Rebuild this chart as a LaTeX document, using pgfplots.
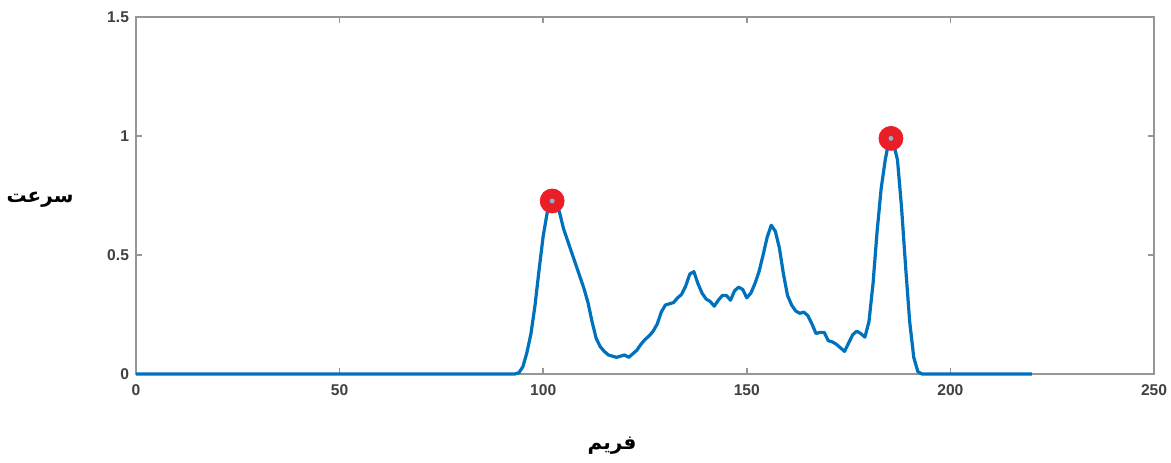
\documentclass[border=0pt]{standalone}
\usepackage{fontspec}
\setmainfont{Liberation Sans}
\newfontfamily\arabicfont[Script=Arabic]{DejaVu Sans}
\TeXXeTstate=1
\usepackage{pgfplots}
\pgfplotsset{compat=1.18}
\definecolor{mblue}{RGB}{0,114,189}
\definecolor{axgray}{RGB}{150,150,150}
\definecolor{mred}{RGB}{235,30,40}
\begin{document}
\begin{tikzpicture}
\path[use as bounding box] (-68pt,-44pt) rectangle (517.5pt,187pt);
\begin{axis}[at={(0pt,0pt)}, anchor=south west, scale only axis,
  width=509pt, height=178.5pt,
  xmin=0, xmax=250, ymin=0, ymax=1.5,
  xtick={0,50,...,250}, ytick={0,0.5,1,1.5},
  tick align=inside, major tick length=3pt,
  axis line style={axgray, line width=1pt},
  tick style={axgray, line width=0.8pt},
  /pgf/number format/assume math mode=true,
  tick label style={font=\fontsize{7.8}{9}\selectfont\bfseries, text=black!75},
  xticklabel style={yshift=-2pt},
  clip=false]
\addplot[mblue, line width=1.6pt, line join=round] coordinates {
(0,0) (93,0) (94,0.005) (95,0.03) (96,0.09) (97,0.17) (98,0.29) (99,0.44) (100,0.58) (101,0.68) (102,0.727) (103,0.72) (104,0.68) (105,0.61) (106,0.56) (107,0.51) (108,0.46) (109,0.41) (110,0.36) (111,0.30) (112,0.22) (113,0.15) (114,0.115) (115,0.095) (116,0.08) (117,0.075) (118,0.07) (119,0.075) (120,0.08) (121,0.07) (122,0.085) (123,0.10) (124,0.125) (125,0.145) (126,0.16) (127,0.18) (128,0.21) (129,0.26) (130,0.29) (131,0.295) (132,0.30) (133,0.32) (134,0.335) (135,0.37) (136,0.42) (137,0.43) (138,0.38) (139,0.34) (140,0.315) (141,0.305) (142,0.285) (143,0.31) (144,0.33) (145,0.33) (146,0.31) (147,0.35) (148,0.365) (149,0.355) (150,0.32) (151,0.34) (152,0.38) (153,0.43) (154,0.50) (155,0.575) (156,0.625) (157,0.60) (158,0.53) (159,0.42) (160,0.33) (161,0.29) (162,0.265) (163,0.255) (164,0.26) (165,0.245) (166,0.21) (167,0.17) (168,0.175) (169,0.175) (170,0.14) (171,0.135) (172,0.125) (173,0.11) (174,0.095) (175,0.13) (176,0.165) (177,0.18) (178,0.17) (179,0.155) (180,0.22) (181,0.38) (182,0.60) (183,0.78) (184,0.90) (185,0.99) (186,0.97) (187,0.90) (188,0.70) (189,0.45) (190,0.22) (191,0.07) (192,0.01) (193,0) (220,0)
};
\addplot[only marks, mark=*, mark size=6pt, mark options={fill=mred, draw=mred}] coordinates {(102.2,0.727) (185.4,0.99)};
\addplot[only marks, mark=*, mark size=1pt, mark options={fill=mblue!50!white, draw=mblue!50!white}] coordinates {(102.2,0.727) (185.4,0.99)};
\end{axis}
\node at (-48pt,87pt) {\arabicfont\bfseries\fontsize{10}{12}\selectfont\beginR سرعت\endR};
\node at (238pt,-36pt) {\arabicfont\bfseries\fontsize{10}{12}\selectfont\beginR فریم\endR};
\end{tikzpicture}
\end{document}
